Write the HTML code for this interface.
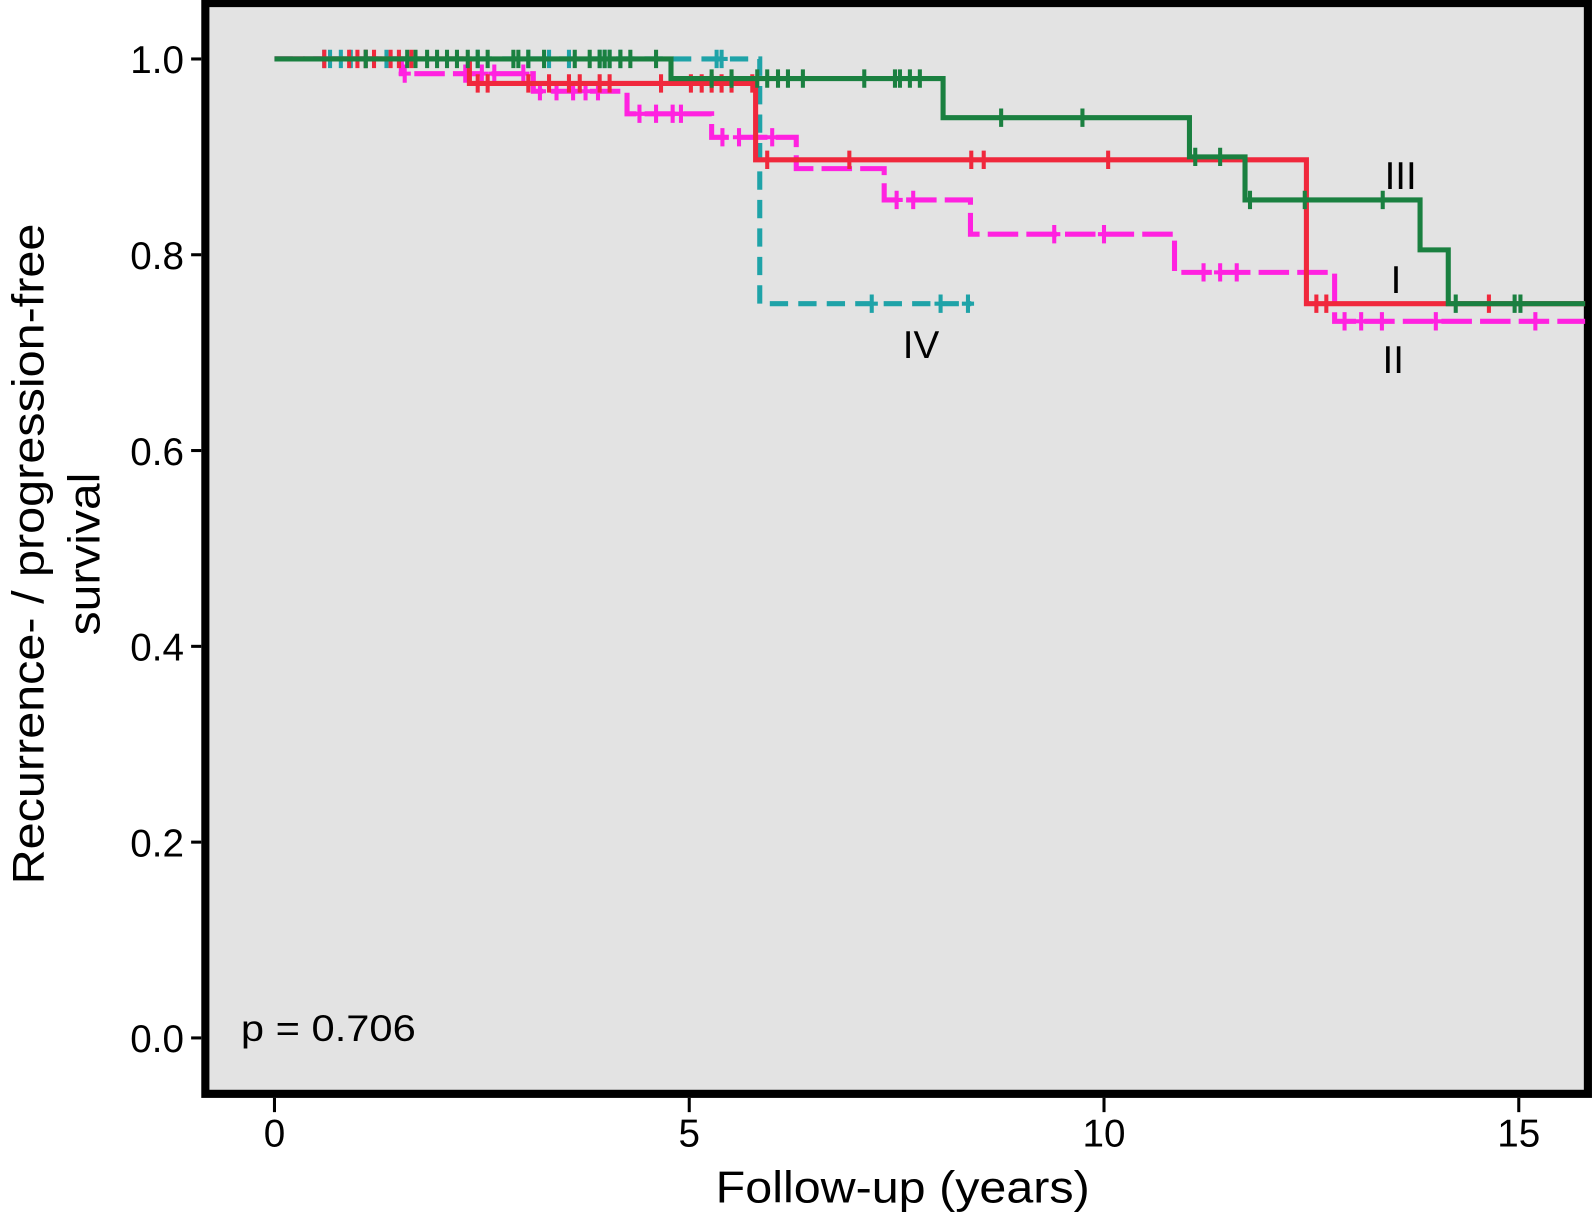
<!DOCTYPE html>
<html><head><meta charset="utf-8"><style>
html,body{margin:0;padding:0;background:#fff;}
svg{display:block;font-family:"Liberation Sans",sans-serif;}
</style></head><body>
<svg id="chart" width="1594" height="1214" viewBox="0 0 1568 1194.2" preserveAspectRatio="none" xmlns="http://www.w3.org/2000/svg">
<rect x="202" y="3" width="1360" height="1073" fill="#e3e3e3" stroke="#000" stroke-width="8"/>
<g id="axes"></g>
<g id="series"></g>
<text x="237" y="1024" font-size="36" textLength="172" lengthAdjust="spacingAndGlyphs">p = 0.706</text>
<text x="1362" y="186" font-size="38">III</text>
<text x="1368" y="288" font-size="38">I</text>
<text x="1360" y="367" font-size="38">II</text>
<text x="888" y="352" font-size="38">IV</text>
<text x="888" y="1183" font-size="44" text-anchor="middle" textLength="368" lengthAdjust="spacingAndGlyphs">Follow-up (years)</text>
<text transform="translate(43,545) rotate(-90)" font-size="44" text-anchor="middle" textLength="650" lengthAdjust="spacingAndGlyphs">Recurrence- / progression-free</text>
<text transform="translate(98,545) rotate(-90)" font-size="44" text-anchor="middle" textLength="160" lengthAdjust="spacingAndGlyphs">survival</text>
</svg>
<script>
const xTicks = [0, 5, 10, 15];
const yTicks = [0.0, 0.2, 0.4, 0.6, 0.8, 1.0];
const yTickLabels = ["0.0", "0.2", "0.4", "0.6", "0.8", "1.0"];
// Stage I (red)
const stepTimesI = [0, 2.35, 5.8, 12.44, 15.8];
const survI = [1.0, 0.975, 0.897, 0.75, 0.75];
const censorTimesI = [0.6, 0.9, 1.0, 1.1, 1.2, 1.4, 1.5, 1.65, 2.45, 2.57, 3.06, 3.31, 3.55, 3.68, 3.92, 4.04, 4.66, 5.02, 5.15, 5.27, 5.39, 5.51, 5.76, 5.94, 6.93, 8.4, 8.55, 10.05, 12.56, 12.68, 14.64];
// Stage II (magenta)
const stepTimesII = [0, 1.53, 3.12, 4.25, 5.27, 6.29, 7.35, 8.39, 10.85, 12.78, 15.8];
const survII = [1.0, 0.985, 0.967, 0.944, 0.92, 0.888, 0.856, 0.821, 0.782, 0.732, 0.732];
const censorTimesII = [1.57, 2.3, 2.5, 2.65, 3.0, 3.2, 3.4, 3.6, 3.75, 3.9, 4.4, 4.6, 4.8, 4.9, 5.4, 5.6, 5.8, 6.0, 7.5, 7.7, 9.4, 10.0, 11.2, 11.4, 11.6, 12.9, 13.1, 13.35, 14.0, 15.2];
// Stage III (green)
const stepTimesIII = [0, 4.78, 8.06, 11.03, 11.7, 13.81, 14.15, 15.8];
const survIII = [1.0, 0.98, 0.94, 0.90, 0.856, 0.805, 0.75, 0.75];
const censorTimesIII = [1.1, 1.6, 1.7, 1.84, 1.96, 2.08, 2.2, 2.33, 2.45, 2.57, 2.88, 2.94, 3.06, 3.25, 3.62, 3.8, 3.92, 3.98, 4.04, 4.17, 4.29, 4.6, 5.27, 5.51, 5.82, 5.94, 6.07, 6.19, 6.37, 7.11, 7.48, 7.54, 7.66, 7.78, 8.76, 9.74, 11.1, 11.4, 11.76, 12.42, 13.36, 14.24, 14.95, 15.02];
// Stage IV (cyan)
const stepTimesIV = [0, 5.85, 8.4];
const survIV = [1.0, 0.75, 0.75];
const censorTimesIV = [0.6, 0.67, 0.8, 0.92, 1.1, 1.35, 2.45, 3.06, 3.31, 3.55, 3.92, 3.98, 4.04, 4.17, 5.33, 5.39, 7.2, 8.03, 8.36];

const X = t => 270 + t * 81.6;
const Y = s => 1021 - s * 963;
const NS = "http://www.w3.org/2000/svg";
const axes = document.getElementById('axes');
const series = document.getElementById('series');
function mk(tag, parent, attrs) {
  const e = document.createElementNS(NS, tag);
  for (const k in attrs) e.setAttribute(k, attrs[k]);
  parent.appendChild(e);
  return e;
}
xTicks.forEach(t => {
  const l = mk('line', axes, {x1: X(t), x2: X(t), y1: 1080, y2: 1094, stroke: '#000', 'stroke-width': 3});
  
  
  const tx = mk('text', axes, {x: X(t), y: 1128, 'font-size': 38, 'text-anchor': 'middle'});
  tx.textContent = String(t);
  
  
});
yTicks.forEach((v, i) => {
  const l = mk('line', axes, {x1: 188, x2: 198, y1: Y(v), y2: Y(v), stroke: '#000', 'stroke-width': 3});
  
  
  const tx = mk('text', axes, {x: 181, y: Y(v) + 14, 'font-size': 38, 'text-anchor': 'end'});
  tx.textContent = yTickLabels[i];
  
  
});
function survAt(times, surv, t) {
  let s = surv[0];
  for (let i = 0; i < times.length; i++) if (times[i] <= t) s = surv[i];
  return s;
}
function draw(name, times, surv, censors, color, dash) {
  let d = 'M' + X(times[0]) + ',' + Y(surv[0]);
  for (let i = 1; i < times.length; i++) {
    d += ' H' + X(times[i]) + ' V' + Y(surv[i]);
  }
  const p = mk('path', series, {d: d, fill: 'none', stroke: color, 'stroke-width': 5, 'stroke-dasharray': dash});
  
  
  censors.forEach(t => {
    const cx = X(t), cy = Y(survAt(times, surv, t));
    const c = mk('path', series, {d: 'M' + cx + ',' + (cy - 9) + ' V' + (cy + 9) + ' M' + (cx - 6) + ',' + cy + ' H' + (cx + 6), stroke: color, 'stroke-width': 4, fill: 'none'});
    
    
  });
}
draw('stage-ii', stepTimesII, survII, censorTimesII, '#ff22e0', '30,8');
draw('stage-iv', stepTimesIV, survIV, censorTimesIV, '#1fa3a8', '18,10');
draw('stage-i', stepTimesI, survI, censorTimesI, '#f0283c', 'none');
draw('stage-iii', stepTimesIII, survIII, censorTimesIII, '#1a8040', 'none');
</script>
</body></html>
